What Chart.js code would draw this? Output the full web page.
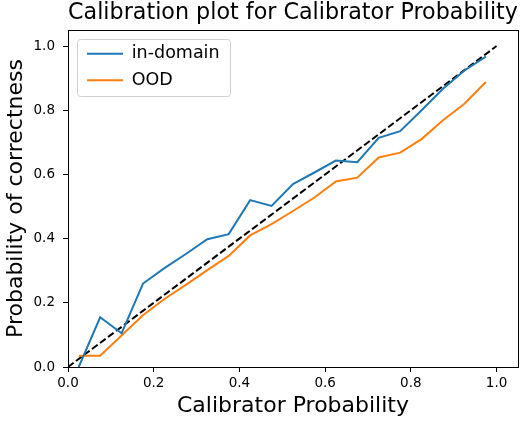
<!DOCTYPE html>
<html>
<head>
<meta charset="utf-8">
<script src="https://cdn.jsdelivr.net/npm/chart.js@4.4.1/dist/chart.umd.min.js"></script>
<style>
  html, body { margin: 0; padding: 0; background: #fff; }
  #wrap { width: 525px; height: 421px; position: relative; }
</style>
</head>
<body>
<div id="wrap"><canvas id="calibChart"></canvas></div>
<script>
// bin centres of the calibrator probability
const binCenters = [0.025, 0.075, 0.125, 0.175, 0.225, 0.275, 0.325, 0.375, 0.425, 0.475,
                    0.525, 0.575, 0.625, 0.675, 0.725, 0.775, 0.825, 0.875, 0.925, 0.975];
const inDomain = [0.0, 0.155, 0.105, 0.26, 0.308, 0.352, 0.398, 0.414, 0.52, 0.502,
                  0.57, 0.606, 0.643, 0.638, 0.714, 0.735, 0.80, 0.867, 0.924, 0.967];
const ood = [0.035, 0.035, 0.098, 0.161, 0.212, 0.256, 0.302, 0.346, 0.41, 0.445,
             0.486, 0.528, 0.578, 0.59, 0.653, 0.668, 0.71, 0.769, 0.82, 0.888];
const diagonal = [0, 1];
const tickValues = [0, 0.2, 0.4, 0.6, 0.8, 1.0];

const toPoints = (xs, ys) => xs.map((x, i) => ({ x: x, y: ys[i] }));

const FONT = 'DejaVu Sans';

// legend sits inside the axes, upper left (chartArea position puts it at top 0 otherwise)
const legendPlace = {
    id: 'legendPlace',
    afterLayout(chart) {
        const lg = chart.legend;
        const a = chart.chartArea;
        lg.left = a.left + 10;
        lg.top = a.top + 6;
        lg.bottom = a.bottom;
        lg.adjustHitBoxes();
    }
};

// frame around the axes + box around the legend
const framePlugin = {
    id: 'frame',
    beforeDatasetsDraw(chart) {
        const ctx = chart.ctx;
        const a = chart.chartArea;
        ctx.save();
        ctx.strokeStyle = '#d0d0d0';
        ctx.lineWidth = 1;
        ctx.beginPath();
        ctx.roundRect(a.left + 9.5, a.top + 9.5, 153, 57, 3);
        ctx.stroke();
        ctx.restore();
    },
    afterDraw(chart) {
        const ctx = chart.ctx;
        const a = chart.chartArea;
        ctx.save();
        ctx.strokeStyle = '#000';
        ctx.lineWidth = 1;
        ctx.strokeRect(a.left + 0.5, a.top + 0.5, a.right - a.left, a.bottom - a.top);
        ctx.restore();
    }
};

const ctx = document.getElementById('calibChart').getContext('2d');
const calibChart = new Chart(ctx, {
    type: 'line',
    data: {
        datasets: [{
            label: 'in-domain',
            data: toPoints(binCenters, inDomain),
            borderColor: '#1f77b4',
            backgroundColor: '#1f77b4',
            borderWidth: 2,
            pointRadius: 0,
            tension: 0
        }, {
            label: 'OOD',
            data: toPoints(binCenters, ood),
            borderColor: '#ff7f0e',
            backgroundColor: '#ff7f0e',
            borderWidth: 2,
            pointRadius: 0,
            tension: 0
        }, {
            label: 'perfect',
            data: toPoints(diagonal, diagonal),
            borderColor: '#000',
            borderWidth: 2,
            borderDash: [7, 3],
            pointRadius: 0
        }]
    },
    options: {
        responsive: true,
        maintainAspectRatio: false,
        animation: false,
        layout: { padding: { right: 7, bottom: 0, left: 0, top: 0 } },
        plugins: {
            title: {
                display: true,
                text: 'Calibration plot for Calibrator Probability',
                color: '#000',
                fullSize: false,
                font: { family: FONT, size: 22.5, weight: 'normal' },
                padding: { top: 0, bottom: 3 }
            },
            legend: {
                position: 'chartArea',
                align: 'start',
                labels: {
                    color: '#000',
                    font: { family: FONT, size: 17.5 },
                    usePointStyle: true,
                    pointStyle: 'line',
                    pointStyleWidth: 36,
                    padding: 9,
                    filter: item => item.text !== 'perfect'
                }
            },
            tooltip: { enabled: false }
        },
        scales: {
            x: {
                type: 'linear',
                min: 0,
                max: 1.05,
                afterBuildTicks: axis => { axis.ticks = tickValues.map(v => ({ value: v })); },
                afterFit: scale => { scale.height = 54; },
                grid: { drawOnChartArea: false, tickLength: 5, tickColor: '#000', tickWidth: 1 },
                border: { color: '#000' },
                ticks: {
                    color: '#000',
                    padding: 3,
                    maxRotation: 0,
                    font: { family: FONT, size: 13.5 },
                    callback: v => v.toFixed(1)
                },
                title: {
                    display: true,
                    text: 'Calibrator Probability',
                    color: '#000',
                    font: { family: FONT, size: 22 },
                    padding: { top: 0, bottom: 2 }
                }
            },
            y: {
                type: 'linear',
                min: 0,
                max: 1.05,
                afterBuildTicks: axis => { axis.ticks = tickValues.map(v => ({ value: v })); },
                afterFit: scale => { scale.width = 68; },
                grid: { drawOnChartArea: false, tickLength: 5, tickColor: '#000', tickWidth: 1 },
                border: { color: '#000' },
                ticks: {
                    color: '#000',
                    padding: 8,
                    font: { family: FONT, size: 13.5 },
                    callback: v => v.toFixed(1)
                },
                title: {
                    display: true,
                    text: 'Probability of correctness',
                    color: '#000',
                    font: { family: FONT, size: 22 },
                    padding: { top: 3, bottom: 0 }
                }
            }
        }
    },
    plugins: [legendPlace, framePlugin]
});
</script>
</body>
</html>
